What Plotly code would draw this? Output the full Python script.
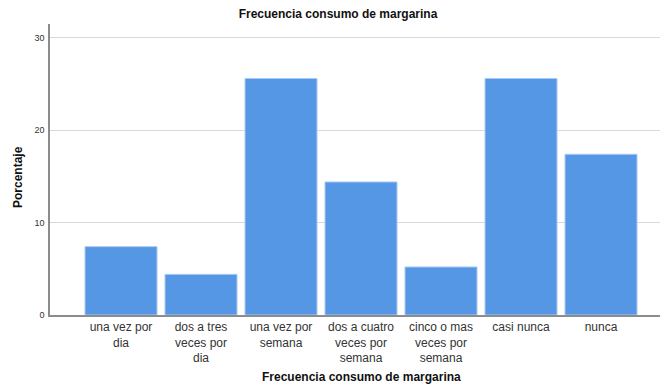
import plotly.graph_objects as go

categories = ["una vez por<br>dia", "dos a tres<br>veces por<br>dia", "una vez por<br>semana",
              "dos a cuatro<br>veces por<br>semana", "cinco o mas<br>veces por<br>semana",
              "casi nunca", "nunca"]
values = [7.4, 4.4, 25.6, 14.4, 5.2, 25.6, 17.4]
y_ticks = [0, 10, 20, 30]

FONT = "Liberation Sans, Arial, sans-serif"
W, H = 660, 390
L, R, T, B = 50, 0, 24, 75
PW, PH = W - L - R, H - T - B


def px_x(x):
    return (x - L) / PW


def px_y(y):
    return (H - B - y) / PH


fig = go.Figure(go.Bar(
    x=list(range(len(categories))), y=values,
    marker=dict(color="#5596e5", line=dict(color="#a9cbf3", width=1)),
    hoverinfo="skip",
))

fig.update_layout(
    width=W, height=H,
    margin=dict(l=L, r=R, t=T, b=B, autoexpand=False),
    paper_bgcolor="white", plot_bgcolor="white",
    bargap=0.1,
    showlegend=False,
    font=dict(family=FONT, color="#222"),
    title=dict(text="<b>Frecuencia consumo de margarina</b>", x=338 / W, xanchor="center",
               y=1 - 14 / H, yanchor="middle", font=dict(size=12, color="#111")),
    xaxis=dict(
        range=[-0.8875, 6.7375],
        tickmode="array", tickvals=list(range(len(categories))), ticktext=categories,
        tickfont=dict(size=12, color="#333"),
        showgrid=False, zeroline=False,
        showline=True, linecolor="#8c8c8c", linewidth=1.5,
        ticks="",
    ),
    yaxis=dict(
        range=[0, 31.5],
        tickmode="array", tickvals=y_ticks, ticktext=[str(t) for t in y_ticks],
        tickfont=dict(size=9, color="#333"),
        showgrid=True, gridcolor="#d9d9d9", gridwidth=1,
        zeroline=False,
        showline=True, linecolor="#8c8c8c", linewidth=1.5,
        ticks="", ticklabelstandoff=2,
    ),
    annotations=[
        dict(text="<b>Frecuencia consumo de margarina</b>", x=px_x(361), y=px_y(377),
             xref="paper", yref="paper", xanchor="center", yanchor="middle",
             showarrow=False, font=dict(size=12, color="#111")),
        dict(text="<b>Porcentaje</b>", x=px_x(18), y=px_y(177),
             xref="paper", yref="paper", xanchor="center", yanchor="middle",
             textangle=-90, showarrow=False, font=dict(size=12, color="#111")),
    ],
)

fig.write_html("out.html", config={"displayModeBar": False},
               post_script="document.body.style.margin='0';document.body.style.overflow='hidden';")
